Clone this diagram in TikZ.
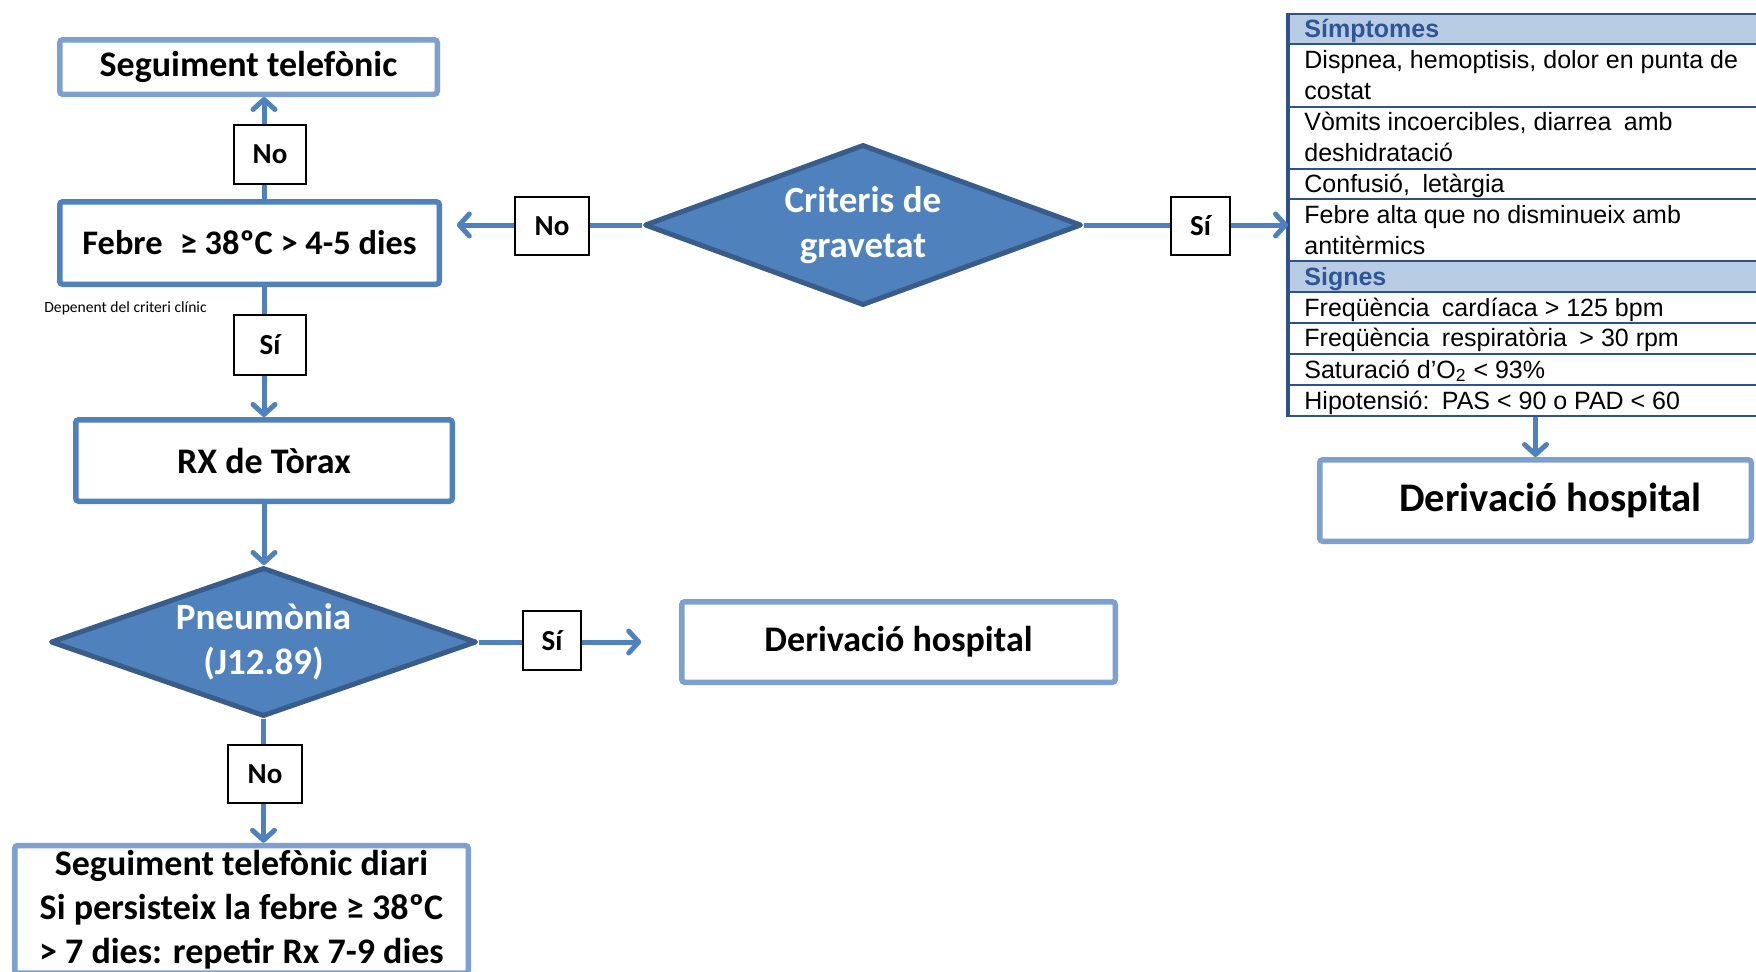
\documentclass[tikz,border=0pt]{standalone}
\usepackage{fontspec}
\setmainfont{Carlito}
\newfontfamily\arialf{Liberation Sans}
\usetikzlibrary{arrows.meta,shapes.geometric}

\definecolor{accent}{RGB}{79,129,189}
\definecolor{lightb}{RGB}{124,160,207}
\definecolor{dborder}{RGB}{56,93,138}
\definecolor{tline}{RGB}{47,82,143}
\definecolor{headfill}{RGB}{184,204,228}
\definecolor{headtext}{RGB}{47,85,151}

\begin{document}
\begin{tikzpicture}[x=0.5pt,y=-0.5pt,
  box/.style={draw=lightb, line width=2.75pt, fill=white, rounded corners=1.5pt, inner sep=0pt,
    font=\bfseries\fontsize{18}{22}\selectfont, align=center},
  dbox/.style={box, draw=accent},
  lbl/.style={draw=black, line width=0.8pt, fill=white, inner sep=0pt,
    font=\bfseries\fontsize{14.5}{17}\selectfont},
  dec/.style={diamond, draw=dborder, fill=accent, line width=2.5pt, inner sep=0pt, text=white,
    font=\bfseries\fontsize{18.5}{22.5}\selectfont, align=center, line join=round},
  conn/.style={draw=accent, line width=2.5pt},
  arr/.style={conn, -{Straight Barb[length=5pt,width=11pt,round]}},
  row/.style={draw=tline, line width=1pt, minimum width=260pt, anchor=north west, inner sep=0pt},
  hrow/.style={row, fill=headfill},
  ttxt/.style={anchor=base west, inner sep=0pt, font=\arialf\fontsize{12.5}{15.5}\selectfont},
  htxt/.style={anchor=base west, inner sep=0pt, text=headtext, font=\arialf\bfseries\fontsize{12.5}{15.5}\selectfont},
]
\useasboundingbox (0,0) rectangle (1756,971);
\clip (0,0) rectangle (1756,971);

% main boxes
\node[box, minimum width=188.75pt, minimum height=27.25pt] (seg) at (248.5,67) {Seguiment telefònic};
\node[dbox, minimum width=189.75pt, minimum height=41.25pt, font=\bfseries\fontsize{17.2}{21}\selectfont] (febre) at (249.5,243) {Febre\enspace ≥ 38ºC > 4-5 dies};
\node[dbox, minimum width=188.25pt, minimum height=40.75pt] (rx) at (264,460.5) {RX de Tòrax};
\node[dec, aspect=2.86, minimum width=213pt, minimum height=74.5pt] (pneu) at (263.5,642) {Pneumònia\\(J12.89)};
\node[dec, aspect=2.7, minimum width=218.5pt, minimum height=80.5pt] (crit) at (863,225) {Criteris de\\gravetat};
\node[box, minimum width=216.75pt, minimum height=40.25pt] (der1) at (898.5,642) {Derivació hospital};
\node[box, minimum width=215.75pt, minimum height=40.75pt, font=\bfseries\fontsize{20.3}{24}\selectfont] (der2) at (1535.5,500.5) {\hspace*{15pt}Derivació hospital};
\node[box, anchor=north, minimum width=226.75pt, inner ysep=2.2pt] (bot) at (241.5,842.75)
  {Seguiment telefònic diari\\Si persisteix la febre ≥ 38ºC\\> 7 dies: repetir Rx 7-9 dies};
\node[font=\fontsize{7.8}{9}\selectfont, inner sep=0pt, anchor=west] (dep) at (44,308) {Depenent del criteri clínic};

% table
\node[hrow, minimum height=15pt]   (r0) at (1288,13)  {};
\node[row,  minimum height=31.5pt] (r1) at (1288,43)  {};
\node[row,  minimum height=31pt]   (r2) at (1288,106) {};
\node[row,  minimum height=15pt]   (r3) at (1288,168) {};
\node[row,  minimum height=31pt]   (r4) at (1288,198) {};
\node[hrow, minimum height=15.5pt] (r5) at (1288,260) {};
\node[row,  minimum height=15.5pt] (r6) at (1288,291) {};
\node[row,  minimum height=15.5pt] (r7) at (1288,322) {};
\node[row,  minimum height=15.5pt] (r8) at (1288,353) {};
\node[row,  minimum height=15.5pt] (r9) at (1288,384) {};
\draw[tline, line width=1.6pt] (r0.north west) -- (r9.south west);

\node[htxt] (t0)  at (1304,37)  {Símptomes};
\node[ttxt] (t1a) at (1304,68)  {Dispnea, hemoptisis, dolor en punta de};
\node[ttxt] (t1b) at (1304,99)  {costat};
\node[ttxt] (t2a) at (1304,130) {Vòmits incoercibles, diarrea\enspace amb};
\node[ttxt] (t2b) at (1304,161) {deshidratació};
\node[ttxt] (t3)  at (1304,192.5) {Confusió,\enspace letàrgia};
\node[ttxt] (t4a) at (1304,223) {Febre alta que no disminueix amb};
\node[ttxt] (t4b) at (1304,254) {antitèrmics};
\node[htxt] (t5)  at (1304,285) {Signes};
\node[ttxt] (t6)  at (1304,316) {Freqüència\enspace cardíaca > 125 bpm};
\node[ttxt] (t7)  at (1304,346.5) {Freqüència\enspace respiratòria\enspace > 30 rpm};
\node[ttxt] (t8)  at (1304,378) {Saturació d’O\textsubscript{2} < 93\%};
\node[ttxt] (t9)  at (1304,409) {Hipotensió:\enspace PAS < 90 o PAD < 60};

% labels
\node[lbl, minimum width=36pt, minimum height=29.5pt] (noTop)   at (270,154.5) {No};
\node[lbl, minimum width=36pt, minimum height=30pt]   (siTop)   at (270,345)   {Sí};
\node[lbl, minimum width=37pt, minimum height=29pt]   (noLeft)  at (552,226)   {No};
\node[lbl, minimum width=29.5pt, minimum height=29pt] (siRight) at (1200.5,226) {Sí};
\node[lbl, minimum width=29pt, minimum height=29.5pt] (siMid)   at (552,640.5) {Sí};
\node[lbl, minimum width=37pt, minimum height=29pt]   (noBot)   at (265,774)   {No};

% connectors
\coordinate (lx) at (264,0);
\draw[conn] (febre.north -| lx) -- (noTop.south -| lx);
\draw[arr] (noTop.north -| lx) -- (seg.south -| lx);
\draw[conn] (febre.south -| lx) -- (siTop.north -| lx);
\draw[arr] (siTop.south -| lx) -- (rx.north -| lx);
\draw[arr] (rx.south) -- (rx.south |- pneu.north);
\draw[conn] (pneu.south) -- (noBot.north -| pneu.south);
\draw[arr] (noBot.south -| pneu.south) -- (bot.north -| pneu.south);
\draw[conn] (pneu.east) -- (siMid.west |- pneu.east);
\draw[arr, shorten >=18.9pt] (siMid.east |- pneu.east) -- (der1.west |- pneu.east);
\draw[conn] (crit.west) -- (noLeft.east |- crit.west);
\draw[arr, shorten >=7.4pt] (noLeft.west |- crit.west) -- (febre.east |- crit.west);
\draw[conn] (crit.east) -- (siRight.west |- crit.east);
\draw[arr] (siRight.east |- crit.east) -- (r4.west |- crit.east);
\draw[arr] (r9.south -| der2.north) -- (der2.north);
\end{tikzpicture}
\end{document}
